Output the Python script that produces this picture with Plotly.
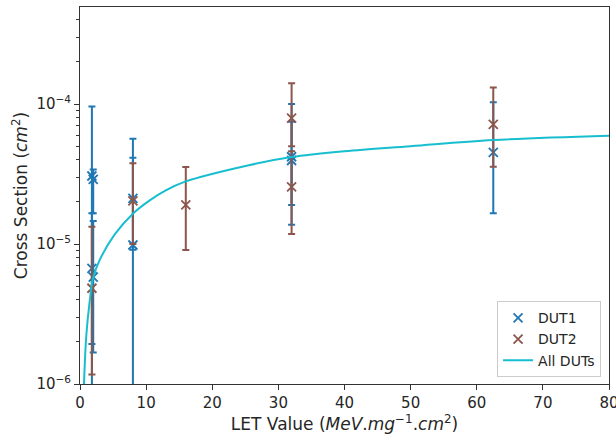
import plotly.graph_objects as go

# ---- data ----
dut1_let = [1.8, 2.0, 1.8, 2.0, 8.0, 8.0, 32.0, 32.0, 62.5]
dut1_sigma = [3.06e-5, 2.9e-5, 6.7e-6, 5.8e-6, 2.12e-5, 9.84e-6, 4.2e-5, 3.95e-5, 4.52e-5]
dut1_upper = [9.6e-5, 3.4e-5, 1.66e-5, 1.46e-5, 5.65e-5, 4.14e-5, 7.46e-5, 1.0e-4, 1.03e-4]
dut1_lower = [1e-7, 1.66e-5, 1.93e-6, 1.68e-6, 9.1e-6, 1e-7, 1.9e-5, 1.37e-5, 1.66e-5]

dut2_let = [1.8, 8.0, 16.0, 32.0, 32.0, 62.5]
dut2_sigma = [4.83e-6, 2.03e-5, 1.9e-5, 7.94e-5, 2.56e-5, 7.16e-5]
dut2_upper = [1.33e-5, 3.77e-5, 3.55e-5, 1.41e-4, 4.6e-5, 1.31e-4]
dut2_lower = [1.17e-6, 1.0e-5, 9.06e-6, 5.0e-5, 1.18e-5, 3.56e-5]

fit_let = [0.6, 0.96, 1.46, 1.97, 2.98, 5.25, 8.07, 10.6, 12.9, 15.9, 25.7, 32, 40, 50, 62.5, 80]
fit_sigma = [1.0e-6, 2.24e-6, 3.87e-6, 5.7e-6, 7.7e-6, 1.17e-5, 1.66e-5, 2.06e-5, 2.41e-5,
             2.79e-5, 3.67e-5, 4.18e-5, 4.6e-5, 5.0e-5, 5.53e-5, 5.94e-5]

x_ticks = [0, 10, 20, 30, 40, 50, 60, 70, 80]
y_ticks = [1e-6, 1e-5, 1e-4]
y_tick_text = ["10<sup>\u22126</sup>", "10<sup>\u22125</sup>", "10<sup>\u22124</sup>"]
y_minor = [m * 10.0 ** e for e in (-6, -5, -4) for m in range(2, 10)]

BLUE = "#1f77b4"
BROWN = "#8c564b"
CYAN = "#17becf"


def err(vals, up, lo):
    plus = [u - v for u, v in zip(up, vals)]
    minus = [v - l for v, l in zip(vals, lo)]
    return plus, minus


fig = go.Figure()

p1, m1 = err(dut1_sigma, dut1_upper, dut1_lower)
fig.add_trace(go.Scatter(
    x=dut1_let, y=dut1_sigma, mode="markers", name="DUT1",
    marker=dict(symbol="x-thin", size=9, line=dict(color=BLUE, width=1.8), color=BLUE),
    error_y=dict(type="data", symmetric=False, array=p1, arrayminus=m1,
                 color=BLUE, thickness=2, width=3.5),
))

p2, m2 = err(dut2_sigma, dut2_upper, dut2_lower)
fig.add_trace(go.Scatter(
    x=dut2_let, y=dut2_sigma, mode="markers", name="DUT2",
    marker=dict(symbol="x-thin", size=9, line=dict(color=BROWN, width=1.8), color=BROWN),
    error_y=dict(type="data", symmetric=False, array=p2, arrayminus=m2,
                 color=BROWN, thickness=2, width=3.5),
))

fig.add_trace(go.Scatter(
    x=fit_let, y=fit_sigma, mode="lines", name="All DUTs",
    line=dict(color=CYAN, width=2, shape="spline"),
))

axis_common = dict(
    showline=True, linecolor="#333333", linewidth=1, mirror=True,
    ticks="outside", ticklen=5, tickwidth=1, tickcolor="#333333",
    showgrid=False, zeroline=False, automargin=False,
    ticklabeloverflow="allow",
    tickfont=dict(family="DejaVu Sans", size=15, color="#262626"),
)

fig.update_layout(
    width=616, height=436,
    margin=dict(l=80, r=7, t=7, b=52),
    paper_bgcolor="white", plot_bgcolor="white",
    font=dict(family="DejaVu Sans", size=15, color="#262626"),
    xaxis=dict(
        range=[0, 80], tickvals=x_ticks,
        title=dict(text="LET Value (<i>MeV</i>.<i>mg</i><sup>\u22121</sup>.<i>cm</i><sup>2</sup>)",
                   font=dict(size=17), standoff=4),
        **axis_common,
    ),
    yaxis=dict(
        type="log", range=[-6, -3.307],
        tickvals=y_ticks, ticktext=y_tick_text,
        minor=dict(tickvals=y_minor, ticks="outside", ticklen=3, tickwidth=1, tickcolor="#333333"),
        title=dict(text="Cross Section (<i>cm</i><sup>2</sup>)", font=dict(size=17), standoff=4),
        **axis_common,
    ),
    legend=dict(
        x=0.985, y=0.018, xanchor="right", yanchor="bottom",
        bgcolor="rgba(255,255,255,0.8)", bordercolor="#cccccc", borderwidth=1,
        font=dict(size=14), tracegroupgap=0, itemwidth=30,
    ),
    showlegend=True,
)

fig.write_html(
    "out.html",
    config={"displayModeBar": False},
    post_script="document.body.style.margin='0';document.body.style.overflow='hidden';",
)
